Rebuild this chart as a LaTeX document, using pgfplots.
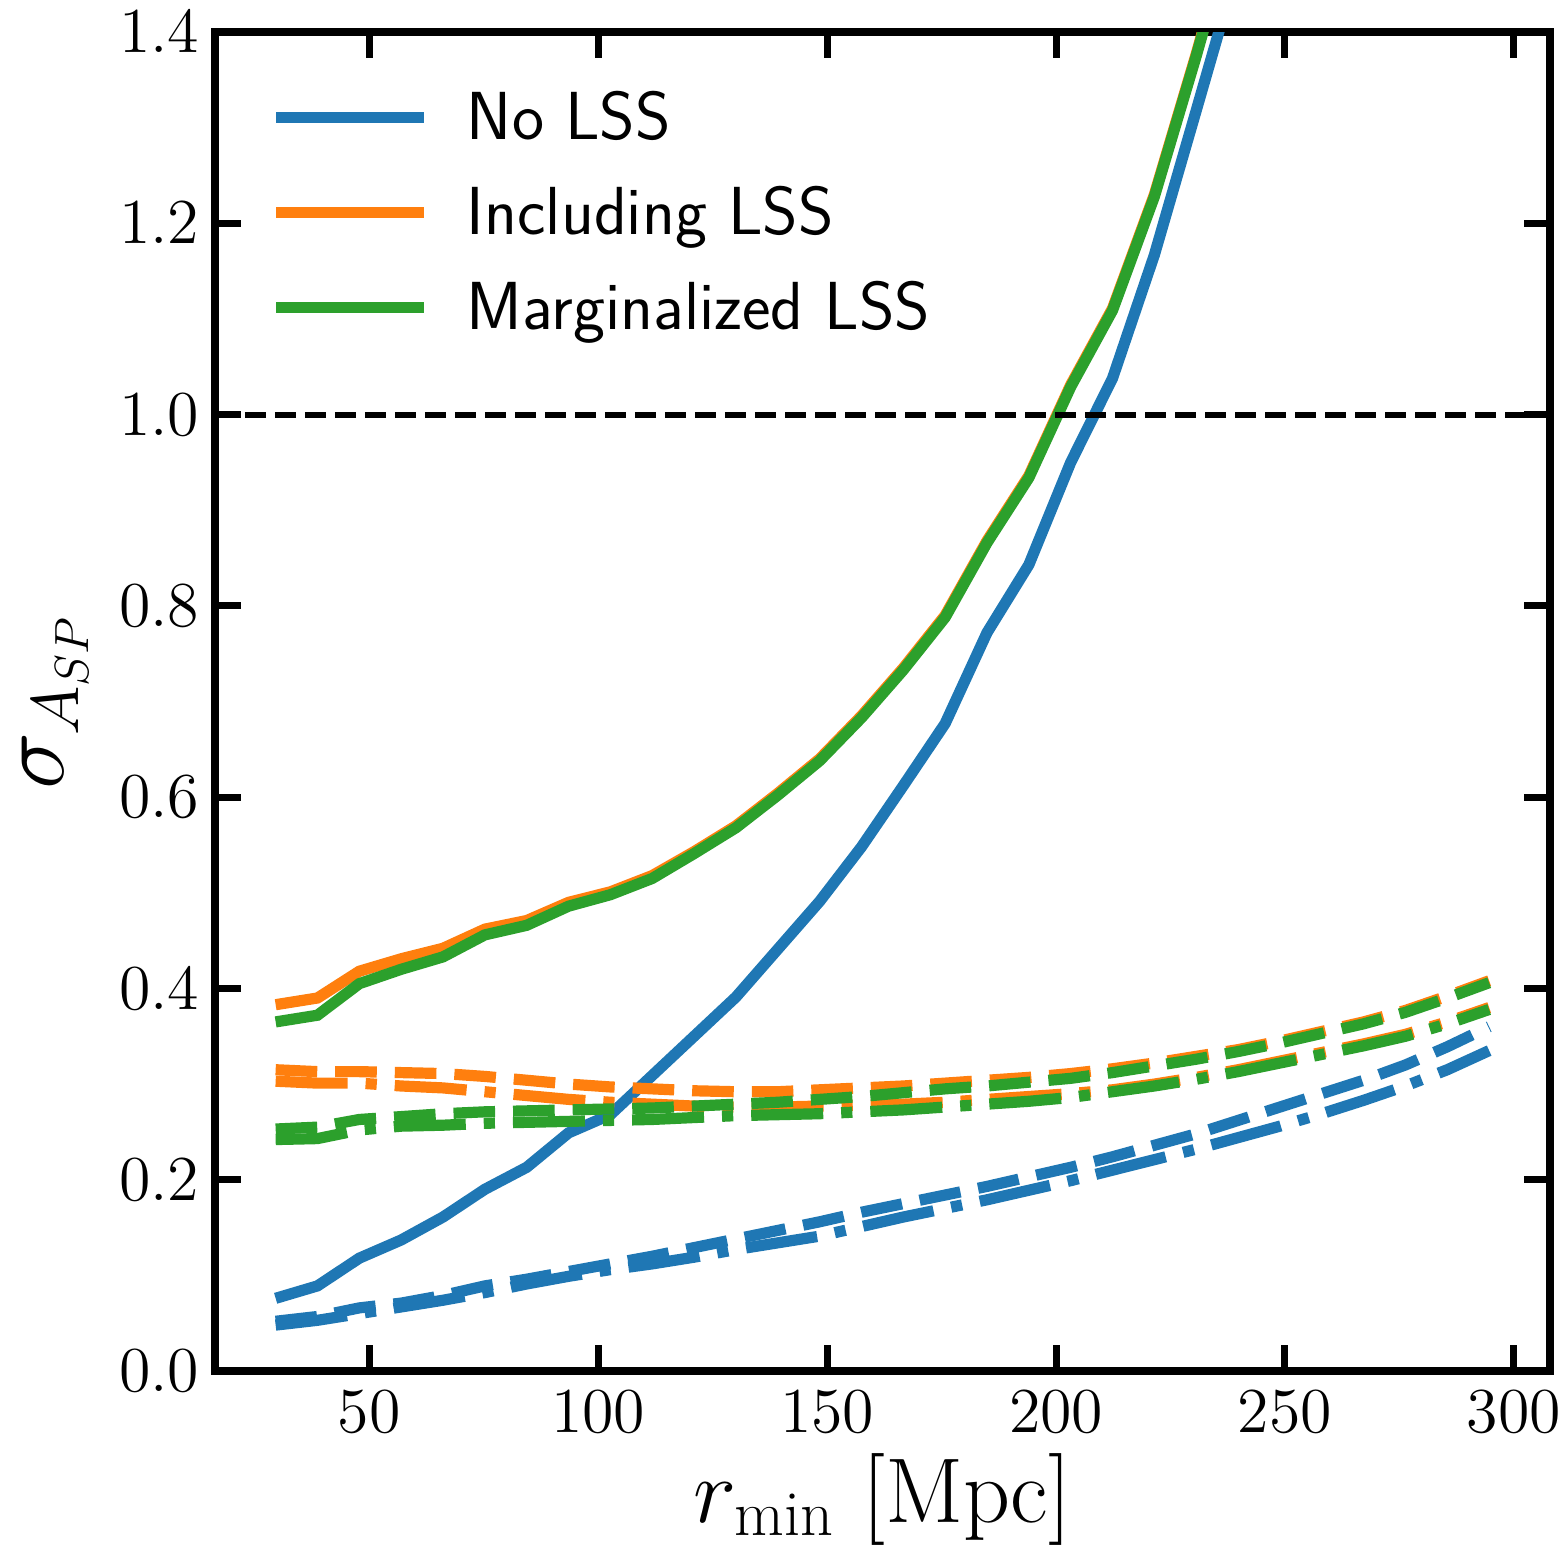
\RequirePackage{fix-cm}
\documentclass[border=0pt]{standalone}
\usepackage{fontspec}
\usepackage{pgfplots}
\usepackage{pgfplotstable}
\pgfplotsset{compat=1.18}

\definecolor{tabblue}{HTML}{1F77B4}
\definecolor{taborange}{HTML}{FF7F0E}
\definecolor{tabgreen}{HTML}{2CA02C}

% columns: b = No LSS, o = Including LSS, g = Marginalized LSS
% suffix d = dashed curve, dd = dash-dotted curve
\pgfplotstableread{
x      b     bd    bdd   o     od    odd   g     gd    gdd
29.55  0.076 0.052 0.048 0.383 0.315 0.303 0.365 0.253 0.242
38.69  0.089 0.057 0.053 0.390 0.313 0.301 0.372 0.255 0.243
47.83  0.118 0.066 0.060 0.418 0.313 0.301 0.405 0.263 0.252
56.97  0.137 0.071 0.067 0.431 0.312 0.298 0.420 0.266 0.256
66.11  0.161 0.079 0.074 0.442 0.311 0.296 0.433 0.269 0.257
75.25  0.190 0.089 0.082 0.462 0.308 0.292 0.456 0.271 0.259
84.39  0.213 0.096 0.091 0.471 0.304 0.288 0.466 0.272 0.260
93.53  0.249 0.104 0.099 0.490 0.300 0.284 0.486 0.273 0.261
102.67 0.268 0.112 0.106 0.501 0.297 0.281 0.498 0.274 0.262
111.81 0.309 0.120 0.112 0.518 0.295 0.279 0.515 0.275 0.263
120.95 0.350 0.129 0.119 0.543 0.293 0.277 0.541 0.277 0.265
130.09 0.391 0.138 0.127 0.570 0.292 0.276 0.568 0.279 0.267
139.23 0.441 0.147 0.134 0.604 0.292 0.276 0.602 0.281 0.268
148.37 0.491 0.156 0.141 0.640 0.294 0.277 0.638 0.284 0.269
157.51 0.548 0.166 0.151 0.685 0.296 0.278 0.683 0.287 0.271
166.65 0.612 0.175 0.161 0.735 0.298 0.279 0.733 0.291 0.273
175.79 0.677 0.184 0.170 0.790 0.301 0.281 0.788 0.295 0.276
184.93 0.772 0.193 0.179 0.868 0.304 0.284 0.866 0.298 0.279
194.07 0.843 0.203 0.189 0.936 0.307 0.287 0.934 0.302 0.282
203.21 0.950 0.213 0.199 1.031 0.311 0.290 1.029 0.306 0.286
212.35 1.038 0.224 0.210 1.111 0.316 0.294 1.109 0.312 0.292
221.49 1.167 0.236 0.221 1.230 0.322 0.300 1.228 0.319 0.298
230.63 1.318 0.248 0.232 1.377 0.329 0.307 1.375 0.326 0.305
239.77 1.470 0.262 0.244 1.532 0.336 0.315 1.530 0.334 0.313
248.91 nan   0.276 0.256 nan   0.345 0.324 nan   0.343 0.322
258.05 nan   0.290 0.269 nan   0.355 0.333 nan   0.353 0.331
267.19 nan   0.304 0.283 nan   0.365 0.342 nan   0.363 0.340
276.33 nan   0.320 0.298 nan   0.377 0.352 nan   0.375 0.350
285.47 nan   0.339 0.315 nan   0.392 0.365 nan   0.390 0.363
294.61 nan   0.360 0.335 nan   0.408 0.380 nan   0.406 0.378
}\sigtab

\pgfplotsset{
  solidline/.style={line width=2.8pt},
  dashline/.style={line width=2.8pt, dash pattern=on 10.4pt off 4.5pt, forget plot},
  dotline/.style={line width=2.8pt, dash pattern=on 18pt off 4.5pt on 2.8pt off 4.5pt, forget plot},
}

\begin{document}
\begin{tikzpicture}
\begin{axis}[
    scale only axis,
    width=333.75pt, height=334.75pt,
    xmin=16.3, xmax=307.9,
    ymin=0, ymax=1.4,
    xtick={50,100,150,200,250,300},
    ytick={0,0.2,0.4,0.6,0.8,1.0,1.2,1.4},
    tick pos=both,
    tick align=inside,
    major tick length=6.5pt,
    major tick style={black, line width=1.75pt},
    axis line style={line width=2pt},
    ticklabel style={font=\fontsize{16}{19}\selectfont},
    xticklabel style={inner ysep=0pt, yshift=-4.75pt},
    yticklabel style={inner xsep=0pt, xshift=-3.75pt,
        /pgf/number format/fixed, /pgf/number format/fixed zerofill,
        /pgf/number format/precision=1},
    xlabel={$r_{\min}\ [\mathrm{Mpc}]$},
    ylabel={$\sigma_{A_{SP}}$},
    label style={inner sep=0pt},
    xlabel style={font=\fontsize{23}{27}\selectfont,
        at={(axis description cs:0.5,0)}, anchor=base, yshift=-37.75pt},
    ylabel style={font=\fontsize{24}{28}\selectfont,
        at={(axis description cs:0,0.5)}, anchor=south, yshift=31.5pt},
    legend cell align=left,
    legend image code/.code={\draw[#1, solid] (0pt,0pt) -- (37pt,0pt);},
    legend style={at={(rel axis cs:0,1)}, anchor=north west,
        xshift=13.75pt, yshift=-12.75pt, draw=none, fill=none,
        inner sep=0pt, row sep=6.7pt, column sep=9.25pt,
        font=\sffamily\fontsize{17}{20}\selectfont,
        nodes={inner sep=0pt, text height=14pt, text depth=3pt}},
]
\addplot[tabblue, solidline] table[x=x, y=b] {\sigtab};
\addlegendentry{No LSS}
\addplot[tabblue, dashline] table[x=x, y=bd] {\sigtab};
\addplot[tabblue, dotline] table[x=x, y=bdd] {\sigtab};

\addplot[taborange, solidline] table[x=x, y=o] {\sigtab};
\addlegendentry{Including LSS}
\addplot[taborange, dashline] table[x=x, y=od] {\sigtab};
\addplot[taborange, dotline] table[x=x, y=odd] {\sigtab};

\addplot[tabgreen, solidline] table[x=x, y=g] {\sigtab};
\addlegendentry{Marginalized LSS}
\addplot[tabgreen, dashline] table[x=x, y=gd] {\sigtab};
\addplot[tabgreen, dotline] table[x=x, y=gdd] {\sigtab};

% sigma = 1 reference
\addplot[black, line width=1.5pt, dash pattern=on 5.2pt off 2.3pt, forget plot]
    coordinates {(16.3,1) (307.9,1)};
\end{axis}
% keep the white margin of the original figure
\pgfresetboundingbox
\path[use as bounding box]
    ([xshift=-53.75pt,yshift=-43.5pt]current axis.south west)
    rectangle ([xshift=4pt,yshift=8pt]current axis.north east);
\end{tikzpicture}
\end{document}
